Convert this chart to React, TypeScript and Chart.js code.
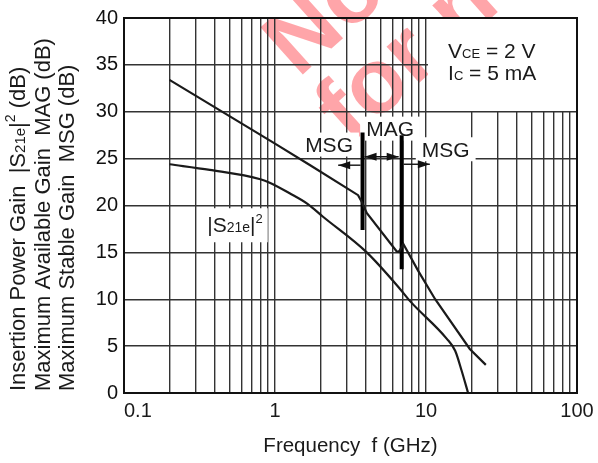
import React, { useEffect, useRef } from "react";
import { Chart, registerables } from "chart.js";

Chart.register(...registerables);

const FONT = '"Liberation Sans", Arial, Helvetica, sans-serif';

// ---- data ----
const xGridValues = [0.1, 0.2, 0.3, 0.4, 0.5, 0.6, 0.7, 0.8, 0.9, 1, 2, 3, 4, 5, 6, 7, 8, 9, 10, 20, 30, 40, 50, 60, 70, 80, 90, 100];
const xTickValues = [0.1, 1, 10, 100];
const xTickLabels = ["0.1", "1", "10", "100"];
const yTickValues = [0, 5, 10, 15, 20, 25, 30, 35, 40];

// MSG / MAG curve
const gainFreq = [0.2, 1.0, 1.71, 3.55, 3.75, 4.05, 6.4, 6.62, 7.08, 8.9, 11.5, 19.5, 24.9];
const gainDb = [33.4, 26.6, 24.3, 21.1, 20.4, 19.2, 15.1, 15.05, 15.9, 13.0, 10.0, 4.7, 3.0];

// |S21e|^2 curve
const s21Freq = [0.2, 0.37, 0.8, 0.93, 1.25, 1.65, 2.08, 4.05, 6.73, 7.84, 13.7, 15.6, 17.2, 19.0];
const s21Db = [24.4, 23.8, 22.8, 22.4, 21.3, 20.15, 18.8, 15.0, 11.1, 9.8, 5.8, 4.5, 2.4, 0];

// MSG/MAG boundary markers
const boundaryFreq = [3.8, 6.9];
const boundaryTopDb = [27.8, 27.5];
const boundaryBottomDb = [17.4, 13.2];

// region arrows
const arrowFromFreq = [3.8, 3.8, 6.9];
const arrowToFreq = [2.62, 6.9, 10.6];
const arrowDb = [24.3, 25.2, 24.4];
const arrowBothEnds = [false, true, false];

// region labels
const regionLabels = ["MSG", "MAG", "MSG"];
const regionLabelFreq = [2.28, 5.78, 13.5];
const regionLabelDb = [26.5, 28.2, 26.0];

const s21LabelFreq = 0.543;
const s21LabelDb = 18.0;

const condFreq = 14.0;
const condDb = [35.77, 33.44];

type Seg = { t: string; s: number; dy?: number };

function measureRich(ctx: CanvasRenderingContext2D, segs: Seg[]) {
  let w = 0;
  for (const sg of segs) {
    ctx.font = `${sg.s}px ${FONT}`;
    w += ctx.measureText(sg.t).width;
  }
  return w;
}

function drawRich(ctx: CanvasRenderingContext2D, segs: Seg[], x: number, y: number, align: "left" | "center") {
  const w = measureRich(ctx, segs);
  let cx = align === "center" ? x - w / 2 : x;
  ctx.textAlign = "left";
  ctx.textBaseline = "alphabetic";
  for (const sg of segs) {
    ctx.font = `${sg.s}px ${FONT}`;
    ctx.fillText(sg.t, cx, y + (sg.dy || 0));
    cx += ctx.measureText(sg.t).width;
  }
  return w;
}

const LABEL = 21;
const YT = 22;

const s21Segs: Seg[] = [
  { t: "|S", s: 21 },
  { t: "21e", s: 14 },
  { t: "|", s: 21 },
  { t: "2", s: 13, dy: -9 },
];

const yTitleLines: Seg[][] = [
  [
    { t: "Insertion Power Gain  |S", s: YT },
    { t: "21e", s: 15 },
    { t: "|", s: YT },
    { t: "2", s: 14, dy: -10 },
    { t: " (dB)", s: YT },
  ],
  [{ t: "Maximum Available Gain  MAG (dB)", s: YT }],
  [{ t: "Maximum Stable Gain  MSG (dB)", s: YT }],
];

const condLines: Seg[][] = [
  [
    { t: "V", s: 21 },
    { t: "CE", s: 13 },
    { t: " = 2 V", s: 21 },
  ],
  [
    { t: "I", s: 21 },
    { t: "C", s: 13 },
    { t: " = 5 mA", s: 21 },
  ],
];

const overlay = {
  id: "overlay",
  beforeDraw(chart: any) {
    const ctx: CanvasRenderingContext2D = chart.ctx;
    ctx.save();
    ctx.fillStyle = "#ffffff";
    ctx.fillRect(0, 0, chart.width, chart.height);
    // watermark
    ctx.fillStyle = "rgba(255, 40, 50, 0.42)";
    ctx.font = `bold 92px ${FONT}`;
    ctx.translate(350, 145);
    ctx.rotate((-42 * Math.PI) / 180);
    ctx.textAlign = "left";
    ctx.textBaseline = "alphabetic";
    ctx.fillText("for new design", 0, 0);
    ctx.fillText("Not recommended", 6, -84);
    ctx.restore();
  },
  beforeDatasetsDraw(chart: any) {
    const ctx: CanvasRenderingContext2D = chart.ctx;
    const xs = chart.scales.x;
    const ys = chart.scales.y;
    ctx.save();
    ctx.fillStyle = "#ffffff";
    // condition box (upper right cells)
    const bx1 = Math.round(xs.getPixelForValue(10)) + 2;
    const bx2 = Math.round(xs.getPixelForValue(100)) - 1;
    const by1 = Math.round(ys.getPixelForValue(40)) + 1;
    const by2 = Math.round(ys.getPixelForValue(30)) - 1;
    ctx.fillRect(bx1, by1, bx2 - bx1, by2 - by1);
    // label boxes
    for (let i = 0; i < regionLabels.length; i++) {
      ctx.font = `${LABEL}px ${FONT}`;
      const w = ctx.measureText(regionLabels[i]).width;
      const cx = xs.getPixelForValue(regionLabelFreq[i]);
      const cy = ys.getPixelForValue(regionLabelDb[i]);
      ctx.fillRect(cx - w / 2 - 6, cy - 12, w + 12, 24);
    }
    const w = measureRich(ctx, s21Segs);
    const sx = xs.getPixelForValue(s21LabelFreq);
    const sy = ys.getPixelForValue(s21LabelDb);
    ctx.fillRect(sx - w / 2 - 5, sy - 16, w + 10, 34);
    ctx.restore();
  },
  afterDatasetsDraw(chart: any) {
    const ctx: CanvasRenderingContext2D = chart.ctx;
    const xs = chart.scales.x;
    const ys = chart.scales.y;
    const area = chart.chartArea;
    ctx.save();
    ctx.fillStyle = "#111";
    ctx.strokeStyle = "#111";

    // arrows
    const head = (tip: number, y: number, dir: number) => {
      ctx.beginPath();
      ctx.moveTo(tip, y);
      ctx.lineTo(tip - dir * 12, y - 4);
      ctx.lineTo(tip - dir * 12, y + 4);
      ctx.closePath();
      ctx.fill();
    };
    for (let i = 0; i < arrowFromFreq.length; i++) {
      const xa = xs.getPixelForValue(arrowFromFreq[i]);
      const xb = xs.getPixelForValue(arrowToFreq[i]);
      const y = ys.getPixelForValue(arrowDb[i]);
      const dir = xb > xa ? 1 : -1;
      const x1 = xa + dir * 2;
      const x2 = arrowBothEnds[i] ? xb - dir * 3 : xb;
      ctx.lineWidth = 1.4;
      ctx.beginPath();
      ctx.moveTo(x1, y);
      ctx.lineTo(x2, y);
      ctx.stroke();
      head(x2, y, dir);
      if (arrowBothEnds[i]) head(x1, y, -dir);
    }

    // region labels
    ctx.fillStyle = "#1a1a1a";
    for (let i = 0; i < regionLabels.length; i++) {
      const cx = xs.getPixelForValue(regionLabelFreq[i]);
      const cy = ys.getPixelForValue(regionLabelDb[i]);
      drawRich(ctx, [{ t: regionLabels[i], s: LABEL }], cx, cy + 7.5, "center");
    }
    drawRich(ctx, s21Segs, xs.getPixelForValue(s21LabelFreq), ys.getPixelForValue(s21LabelDb) + 8, "center");

    // conditions
    for (let i = 0; i < condLines.length; i++) {
      drawRich(ctx, condLines[i], xs.getPixelForValue(condFreq), ys.getPixelForValue(condDb[i]), "left");
    }

    // frame
    ctx.strokeStyle = "#111";
    ctx.lineWidth = 2;
    ctx.strokeRect(area.left, area.top, area.right - area.left, area.bottom - area.top);

    // x tick labels
    for (let i = 0; i < xTickValues.length; i++) {
      const px = xs.getPixelForValue(xTickValues[i]);
      if (i === 0) drawRich(ctx, [{ t: xTickLabels[i], s: 20 }], px, 417, "left");
      else drawRich(ctx, [{ t: xTickLabels[i], s: 20 }], px, 417, "center");
    }
    // x title
    drawRich(ctx, [{ t: "Frequency  f (GHz)", s: 20.5 }], (area.left + area.right) / 2, 452, "center");

    // y title (rotated)
    const baseX = [25, 49.5, 74];
    for (let i = 0; i < yTitleLines.length; i++) {
      ctx.save();
      ctx.translate(baseX[i], 391);
      ctx.rotate(-Math.PI / 2);
      drawRich(ctx, yTitleLines[i], 0, 0, "left");
      ctx.restore();
    }
    ctx.restore();
  },
};

export default function App() {
  const ref = useRef<HTMLCanvasElement | null>(null);
  useEffect(() => {
    if (!ref.current) return;
    const chart = new Chart(ref.current, {
      type: "line",
      data: {
        datasets: [
          {
            label: "MSG/MAG",
            data: gainFreq.map((f, i) => ({ x: f, y: gainDb[i] })),
            borderColor: "#1a1a1a",
            borderWidth: 2.2,
            pointRadius: 0,
            tension: 0,
          },
          {
            label: "|S21e|^2",
            data: s21Freq.map((f, i) => ({ x: f, y: s21Db[i] })),
            borderColor: "#1a1a1a",
            borderWidth: 2.2,
            pointRadius: 0,
            cubicInterpolationMode: "monotone",
          },
          ...boundaryFreq.map((f, i) => ({
            label: "boundary" + i,
            data: [
              { x: f, y: boundaryTopDb[i] },
              { x: f, y: boundaryBottomDb[i] },
            ],
            borderColor: "#000",
            borderWidth: 4,
            borderCapStyle: "butt" as const,
            pointRadius: 0,
          })),
        ],
      },
      options: {
        animation: false,
        responsive: false,
        maintainAspectRatio: false,
        layout: { padding: { top: 15, right: 21, left: 0, bottom: 0 } },
        plugins: { legend: { display: false }, tooltip: { enabled: false } },
        scales: {
          x: {
            type: "logarithmic",
            min: 0.1,
            max: 100,
            afterBuildTicks: (scale: any) => {
              scale.ticks = xGridValues.map((v) => ({ value: v }));
            },
            afterFit: (scale: any) => {
              scale.height = 70;
            },
            ticks: { display: false },
            grid: { color: "#333", lineWidth: 1.4, drawTicks: false },
            border: { display: false },
          },
          y: {
            type: "linear",
            min: 0,
            max: 40,
            afterBuildTicks: (scale: any) => {
              scale.ticks = yTickValues.map((v) => ({ value: v }));
            },
            afterFit: (scale: any) => {
              scale.width = 124;
            },
            ticks: { color: "#111", font: { family: FONT, size: 20 }, padding: 6 },
            grid: { color: "#333", lineWidth: 1.4, drawTicks: false },
            border: { display: false },
          },
        },
      },
      plugins: [overlay],
    });
    return () => chart.destroy();
  }, []);
  return (
    <div style={{ position: "fixed", left: 0, top: 0, width: 598, height: 463, background: "#fff" }}>
      <canvas ref={ref} width={598} height={463} style={{ width: 598, height: 463, display: "block" }} />
    </div>
  );
}
